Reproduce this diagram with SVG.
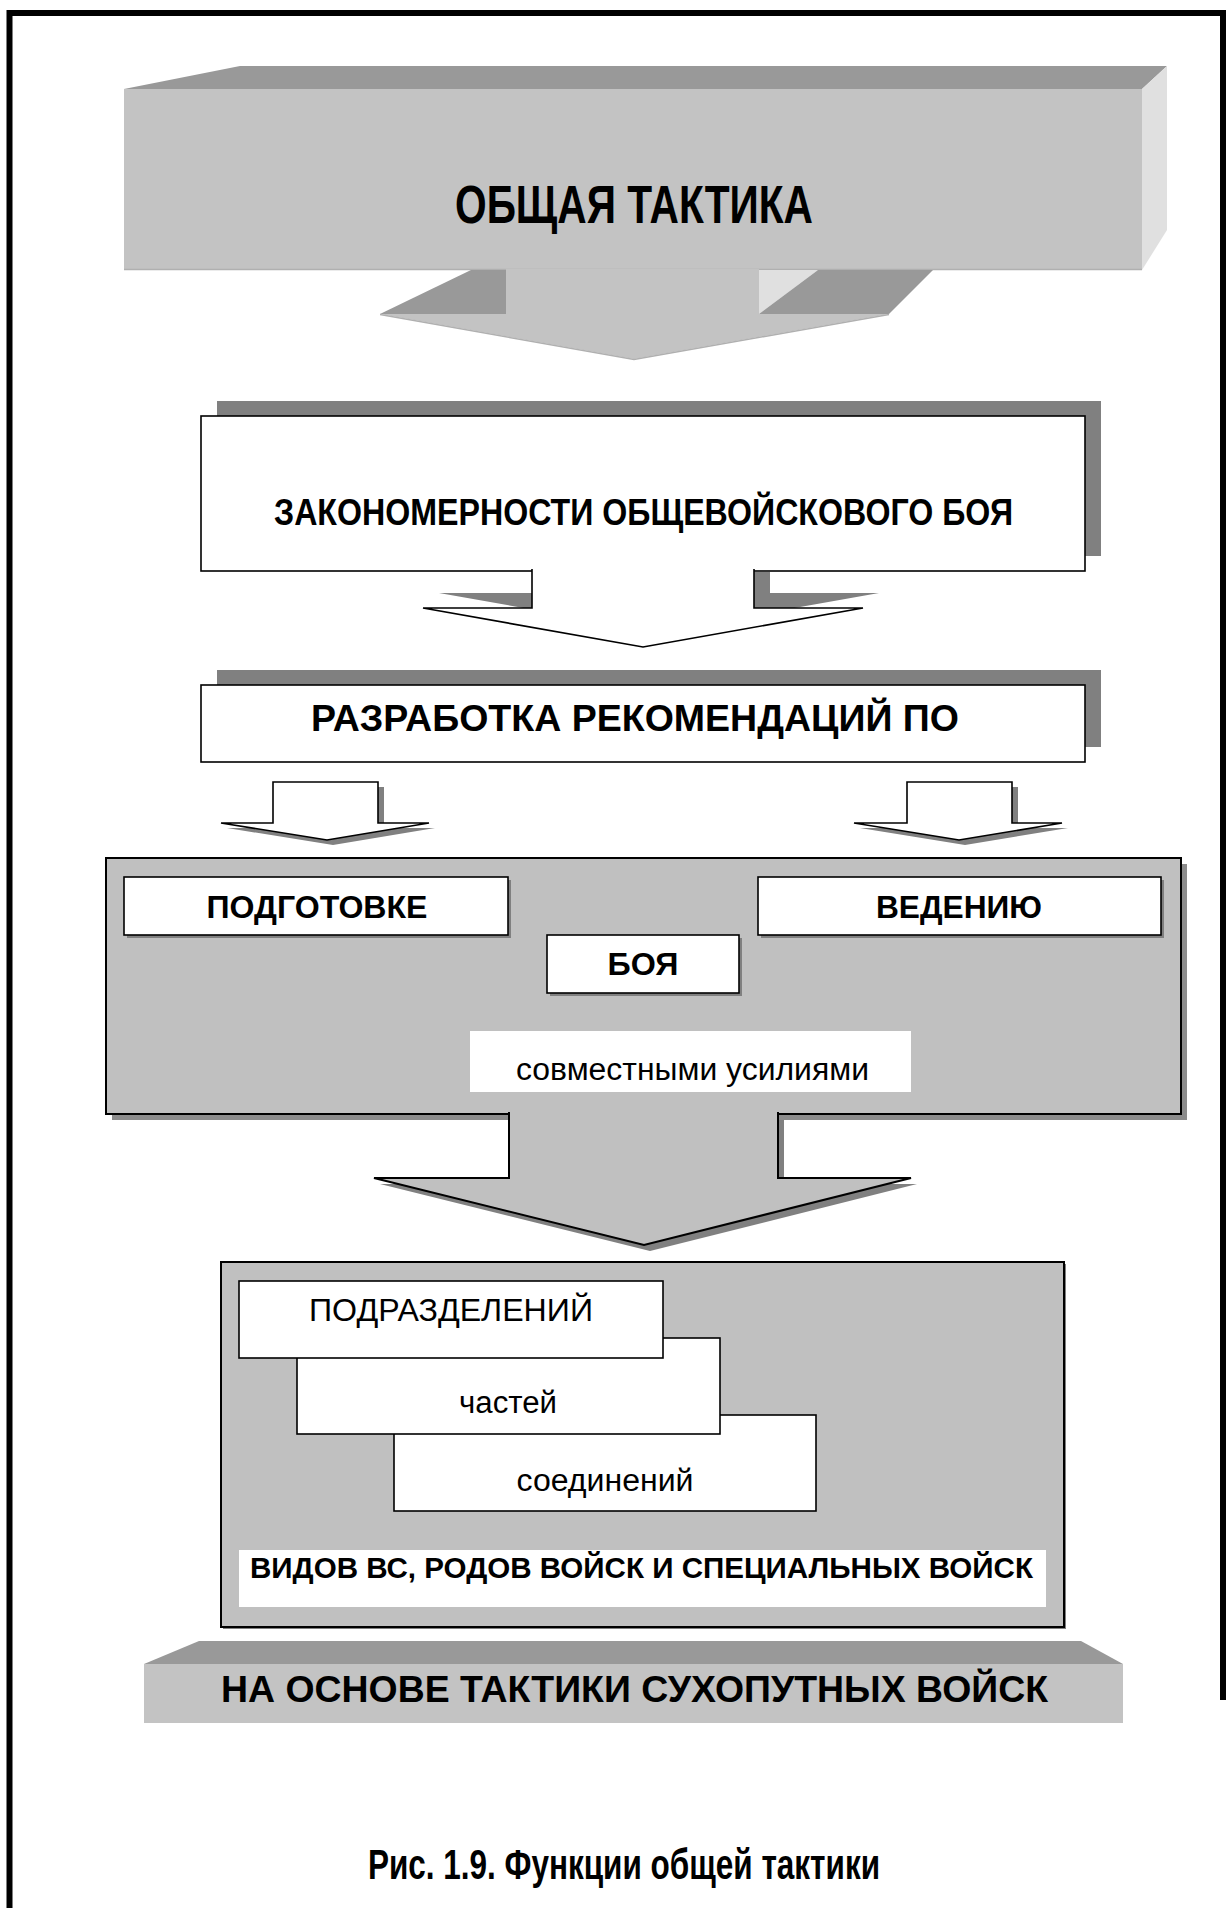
<svg xmlns="http://www.w3.org/2000/svg" width="1230" height="1908" viewBox="0 0 1230 1908">
<style>
.b{font-family:"Liberation Sans",Arial,sans-serif;font-weight:bold;fill:#000}
.r{font-family:"Liberation Sans",Arial,sans-serif;font-weight:normal;fill:#000}
.box{fill:#fff;stroke:#000;stroke-width:1.6}
.gbox{fill:#c0c0c0;stroke:#000;stroke-width:2}
.sh{fill:#808080}
.front{fill:#c3c3c3}
.top{fill:#999}
.side{fill:#e0e0e0}
</style>
<rect width="1230" height="1908" fill="#fff"/>
<path d="M9.5,1908 V13 H1223 V1700" fill="none" stroke="#000" stroke-width="6"/>

<g id="node-general-tactics">
<polygon class="top" points="124,89 240,66 1167,66 1142,89"/>
<polygon class="side" points="1142,89 1167,66 1167,230 1142,270"/>
<rect class="front" x="124" y="89" width="1018" height="181"/>
<line x1="124" y1="269.5" x2="1142" y2="269.5" stroke="#b0b0b0" stroke-width="1.5"/>
<text class="b" x="455" y="223" font-size="53" textLength="358" lengthAdjust="spacingAndGlyphs">ОБЩАЯ ТАКТИКА</text>
</g>

<g id="node-laws">
<rect class="sh" x="217" y="401" width="884" height="155"/>
<rect class="box" x="201" y="416" width="884" height="155"/>
<text class="b" x="274" y="525" font-size="37" textLength="739" lengthAdjust="spacingAndGlyphs">ЗАКОНОМЕРНОСТИ ОБЩЕВОЙСКОВОГО БОЯ</text>
</g>

<g id="node-recommendations">
<rect class="sh" x="217" y="670" width="884" height="77"/>
<rect class="box" x="201" y="685" width="884" height="77"/>
<text class="b" x="311" y="731" font-size="36" textLength="648" lengthAdjust="spacingAndGlyphs">РАЗРАБОТКА РЕКОМЕНДАЦИЙ ПО</text>
</g>

<g id="node-battle">
<rect class="sh" x="112" y="864" width="1075" height="256" opacity="0.9"/>
<rect class="gbox" x="106" y="858" width="1075" height="256"/>
<g id="node-preparation">
<rect class="sh" x="127" y="880" width="384" height="58"/>
<rect class="box" x="124" y="877" width="384" height="58"/>
<text class="b" x="317" y="918" font-size="31" text-anchor="middle" textLength="221" lengthAdjust="spacingAndGlyphs">ПОДГОТОВКЕ</text>
</g>
<g id="node-conduct">
<rect class="sh" x="761" y="880" width="403" height="58"/>
<rect class="box" x="758" y="877" width="403" height="58"/>
<text class="b" x="959" y="918" font-size="31" text-anchor="middle" textLength="166" lengthAdjust="spacingAndGlyphs">ВЕДЕНИЮ</text>
</g>
<g id="node-boya">
<rect class="sh" x="550" y="938" width="192" height="58"/>
<rect class="box" x="547" y="935" width="192" height="58"/>
<text class="b" x="643" y="975" font-size="31" text-anchor="middle" textLength="71" lengthAdjust="spacingAndGlyphs">БОЯ</text>
</g>
<g id="node-joint">
<rect x="470" y="1031" width="441" height="61" fill="#fff"/>
<text class="r" x="516" y="1080" font-size="31" textLength="353" lengthAdjust="spacingAndGlyphs">совместными усилиями</text>
</g>
</g>

<g id="node-forces">
<rect class="sh" x="223" y="1264" width="843" height="365"/>
<rect class="gbox" x="221" y="1262" width="843" height="365" stroke-width="1.6"/>
<g id="node-formations">
<rect class="box" x="394" y="1415" width="422" height="96"/>
<text class="r" x="605" y="1491" font-size="31" text-anchor="middle" textLength="177" lengthAdjust="spacingAndGlyphs">соединений</text>
</g>
<g id="node-units">
<rect class="box" x="297" y="1338" width="423" height="96"/>
<text class="r" x="508" y="1413" font-size="31" text-anchor="middle" textLength="98" lengthAdjust="spacingAndGlyphs">частей</text>
</g>
<g id="node-subunits">
<rect class="box" x="239" y="1281" width="424" height="77"/>
<text class="r" x="451" y="1321" font-size="31" text-anchor="middle" textLength="284" lengthAdjust="spacingAndGlyphs">ПОДРАЗДЕЛЕНИЙ</text>
</g>
<g id="node-branches">
<rect x="239" y="1550" width="807" height="57" fill="#fff"/>
<text class="b" x="250" y="1578" font-size="29" textLength="783" lengthAdjust="spacingAndGlyphs">ВИДОВ ВС, РОДОВ ВОЙСК И СПЕЦИАЛЬНЫХ ВОЙСК</text>
</g>
</g>

<g id="node-ground-forces">
<polygon class="top" points="144,1664 199,1641 1081,1641 1123,1664"/>
<rect class="front" x="144" y="1664" width="979" height="59"/>
<text class="b" x="221" y="1702" font-size="36" textLength="827" lengthAdjust="spacingAndGlyphs">НА ОСНОВЕ ТАКТИКИ СУХОПУТНЫХ ВОЙСК</text>
</g>

<g id="connectors">
<!-- 3D arrow from top block -->
<polygon class="top" points="380,314 471,270 506,270 506,314"/>
<polygon class="side" points="759,270 818,270 759,314"/>
<polygon class="top" points="818,270 933,270 889,314 759,314"/>
<polygon class="front" points="506,269 759,269 759,314 889,314 634,359 380,314 506,314"/>
<polyline points="380,314.5 634,359.5 889,314.5" fill="none" stroke="#b0b0b0" stroke-width="1.5"/>
<!-- arrow from laws box -->
<polygon class="sh" points="548,572 548,593 439,593 659,632 879,593 770,593 770,572"/>
<path d="M532,569 V608 H423 L643,647 L863,608 H754 V569" fill="#fff" stroke="#000" stroke-width="1.6"/>
<!-- two small arrows -->
<polygon class="sh" points="279,787 384,787 384,828 435,828 333,845 227,828 279,828"/>
<polygon points="273,782 378,782 378,823 429,823 327,840 221,823 273,823" fill="#fff" stroke="#000" stroke-width="1.6"/>
<polygon class="sh" points="913,787 1018,787 1018,828 1068,828 965,845 860,828 913,828"/>
<polygon points="907,782 1012,782 1012,823 1062,823 959,840 854,823 907,823" fill="#fff" stroke="#000" stroke-width="1.6"/>
<!-- big arrow from battle box -->
<polygon class="sh" points="515,1120 784,1120 784,1184 917,1184 650,1251 380,1184 515,1184"/>
<path d="M509,1112 V1178 H374 L644,1245 L911,1178 H778 V1112" fill="#c0c0c0" stroke="#000" stroke-width="2"/>
</g>

<text class="b" x="368" y="1879" font-size="42" textLength="512" lengthAdjust="spacingAndGlyphs">Рис. 1.9. Функции общей тактики</text>
</svg>
